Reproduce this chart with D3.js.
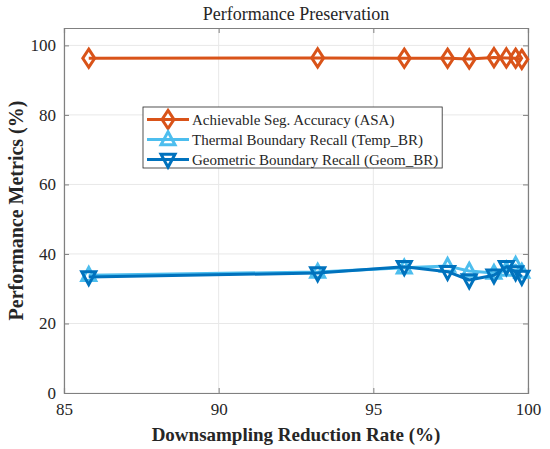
<!DOCTYPE html>
<html>
<head>
<meta charset="utf-8">
<script src="https://cdn.jsdelivr.net/npm/d3@7"></script>
<style>
  body { margin: 0; background: #fff; }
  svg { display: block; }
  text { font-family: "Liberation Serif", "Times New Roman", Times, serif; fill: #262626; }
</style>
</head>
<body>
<svg id="chart" width="550" height="449"></svg>
<script>
// data
const rates = [85.8, 93.2, 96.0, 97.4, 98.1, 98.9, 99.3, 99.6, 99.8];
const asa = [96.3, 96.4, 96.3, 96.3, 96.1, 96.5, 96.4, 96.3, 96.0];
const tempBR = [33.9, 34.8, 36.0, 36.5, 35.1, 34.5, 35.4, 36.8, 34.8];
const geomBR = [33.4, 34.5, 36.3, 34.9, 32.5, 33.9, 36.3, 34.8, 33.5];
const xTicks = [85, 90, 95, 100];
const yTicks = [0, 20, 40, 60, 80, 100];

const series = [
  { name: 'Achievable Seg. Accuracy (ASA)', values: asa, color: '#D95319', marker: 'diamond' },
  { name: 'Thermal Boundary Recall (Temp_BR)', values: tempBR, color: '#4DBEEE', marker: 'up' },
  { name: 'Geometric Boundary Recall (Geom_BR)', values: geomBR, color: '#0072BD', marker: 'down' }
];

const svg = d3.select('#chart');
const plotLeft = 64, plotRight = 528, plotTop = 28, plotBottom = 393;
const serif = '"Liberation Serif", "Times New Roman", Times, serif';

const x = d3.scaleLinear().domain([85, 100]).range([plotLeft, plotRight]);
const y = d3.scaleLinear().domain([0, 105]).range([plotBottom, plotTop]);

const axisColor = '#808080',
  gridColor = '#e8e8e8',
  lineWidth = 3,
  markerSize = 7;

// grid
svg.append('g').selectAll('line').data(xTicks).join('line')
  .attr('x1', d => x(d)).attr('x2', d => x(d))
  .attr('y1', plotTop).attr('y2', plotBottom)
  .attr('stroke', gridColor).attr('stroke-width', 1);
svg.append('g').selectAll('line').data(yTicks).join('line')
  .attr('x1', plotLeft).attr('x2', plotRight)
  .attr('y1', d => y(d)).attr('y2', d => y(d))
  .attr('stroke', gridColor).attr('stroke-width', 1);

// axes (ticks inward, box on)
const xAxis = svg.append('g').attr('transform', `translate(0,${plotBottom})`)
  .call(d3.axisBottom(x).tickValues(xTicks).tickSize(-5).tickPadding(10).tickFormat(d3.format('d')));
const xAxisTop = svg.append('g').attr('transform', `translate(0,${plotTop})`)
  .call(d3.axisTop(x).tickValues(xTicks).tickSize(-5).tickFormat(''));
const yAxis = svg.append('g').attr('transform', `translate(${plotLeft},0)`)
  .call(d3.axisLeft(y).tickValues(yTicks).tickSize(-5).tickPadding(8));
const yAxisRight = svg.append('g').attr('transform', `translate(${plotRight},0)`)
  .call(d3.axisRight(y).tickValues(yTicks).tickSize(-5).tickFormat(''));

[xAxis, xAxisTop, yAxis, yAxisRight].forEach(function(g) {
  g.attr('font-family', serif);
  g.select('.domain').attr('stroke', axisColor).attr('stroke-width', 1.2);
  g.selectAll('.tick line').attr('stroke', axisColor);
  g.selectAll('.tick text')
    .attr('font-size', 17)
    .attr('fill', '#262626');
});

// markers
function markerPath(type, cx, cy) {
  const s = markerSize;
  if (type === 'diamond') {
    return `M${cx},${cy - s * 1.3}L${cx + s * 0.85},${cy}L${cx},${cy + s * 1.3}L${cx - s * 0.85},${cy}Z`;
  }
  if (type === 'up') {
    return `M${cx},${cy - s * 1.1}L${cx + s},${cy + s * 0.75}L${cx - s},${cy + s * 0.75}Z`;
  }
  return `M${cx},${cy + s * 1.1}L${cx + s},${cy - s * 0.75}L${cx - s},${cy - s * 0.75}Z`;
}

const line = d3.line().x(d => x(d[0])).y(d => y(d[1]));

series.forEach(function(s) {
  const pts = rates.map((r, i) => [r, s.values[i]]);
  const g = svg.append('g');
  g.append('path')
    .attr('d', line(pts))
    .attr('fill', 'none')
    .attr('stroke', s.color)
    .attr('stroke-width', lineWidth)
    .attr('stroke-linejoin', 'round');
  g.selectAll('path.marker').data(pts).join('path')
    .attr('class', 'marker')
    .attr('d', d => markerPath(s.marker, x(d[0]), y(d[1])))
    .attr('fill', 'none')
    .attr('stroke', s.color)
    .attr('stroke-width', lineWidth);
});

// legend, box sized to its text
const legendX = 143, legendY = 107, legendH = 61;
const legend = svg.append('g');
const legendBox = legend.append('rect')
  .attr('x', legendX).attr('y', legendY)
  .attr('height', legendH)
  .attr('fill', '#fff').attr('stroke', '#262626').attr('stroke-width', 0.8);
let textRight = 0;
series.forEach(function(s, i) {
  const cy = legendY + 12.5 + i * 20;
  legend.append('line')
    .attr('x1', legendX + 4).attr('x2', legendX + 46)
    .attr('y1', cy).attr('y2', cy)
    .attr('stroke', s.color).attr('stroke-width', lineWidth);
  legend.append('path')
    .attr('d', markerPath(s.marker, legendX + 25, cy))
    .attr('fill', 'none')
    .attr('stroke', s.color)
    .attr('stroke-width', lineWidth);
  const t = legend.append('text')
    .attr('x', legendX + 49).attr('y', cy + 5)
    .attr('font-size', 15)
    .text(s.name);
  const bb = t.node().getBBox();
  textRight = Math.max(textRight, bb.x + bb.width);
});
legendBox.attr('width', textRight + 4 - legendX);

// title and labels
svg.append('text')
  .attr('x', (plotLeft + plotRight) / 2).attr('y', 20)
  .attr('text-anchor', 'middle')
  .attr('font-size', 18)
  .text('Performance Preservation');

svg.append('text')
  .attr('x', (plotLeft + plotRight) / 2).attr('y', 441)
  .attr('text-anchor', 'middle')
  .attr('font-size', 19)
  .attr('font-weight', 'bold')
  .text('Downsampling Reduction Rate (%)');

svg.append('text')
  .attr('transform', `translate(23,${(plotTop + plotBottom) / 2}) rotate(-90)`)
  .attr('text-anchor', 'middle')
  .attr('font-size', 20)
  .attr('font-weight', 'bold')
  .text('Performance Metrics (%)');
</script>
</body>
</html>
